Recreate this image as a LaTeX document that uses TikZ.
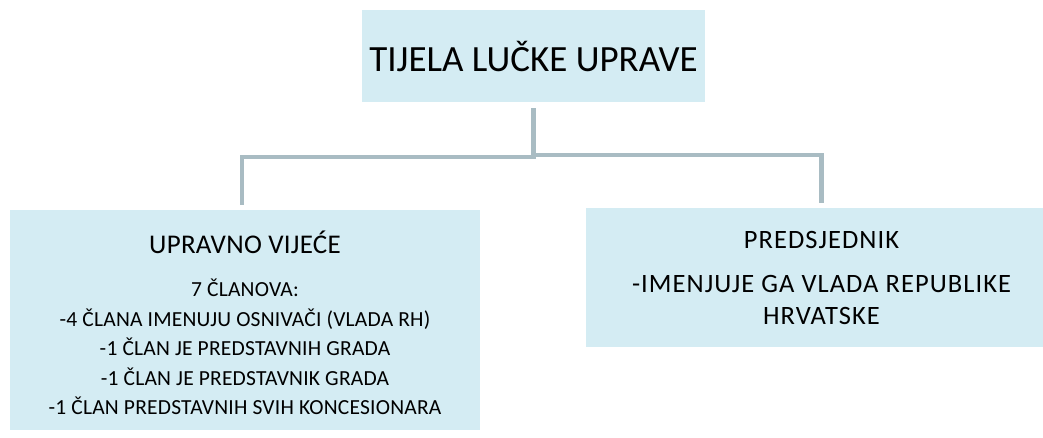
\documentclass[tikz,border=0pt]{standalone}
\usepackage{fontspec}
\setmainfont{Carlito}
\definecolor{boxfill}{HTML}{D4ECF3}
\definecolor{linecol}{HTML}{A9BCC3}
\begin{document}
\begin{tikzpicture}[x=1pt,y=-1pt,
  box/.style={fill=boxfill, draw=none, inner sep=0pt, align=center, text=black},
  conn/.style={draw=linecol, line width=4.5pt}]
\useasboundingbox (0,0) rectangle (1043,437);
\node[box, minimum width=343pt, minimum height=92pt, font=\fontsize{37}{44}\selectfont] (top) at (533.5,56) {TIJELA LUČKE UPRAVE};
\node[box, minimum width=470pt, minimum height=220pt, font=\fontsize{21.5}{29.5}\selectfont\addfontfeatures{LetterSpace=1}] (left) at (245,320)
  {\rule{0pt}{29pt}{\fontsize{27}{29.5}\selectfont UPRAVNO VIJEĆE}\\[13.5pt]
   7 ČLANOVA:\\
   -4 ČLANA IMENUJU OSNIVAČI (VLADA RH)\\
   -1 ČLAN JE PREDSTAVNIH GRADA\\
   -1 ČLAN JE PREDSTAVNIK GRADA\\
   -1 ČLAN PREDSTAVNIH SVIH KONCESIONARA};
\node[box, minimum width=471pt, minimum height=139pt, font=\fontsize{26.5}{32}\selectfont\addfontfeatures{LetterSpace=4}] (right) at (821.5,277.5)
  {PREDSJEDNIK\\[12pt]
   -IMENJUJE GA VLADA REPUBLIKE\\
   HRVATSKE};
\coordinate (stem) at ([yshift=-6pt]top.south);
\coordinate (lend) at ([xshift=-3pt,yshift=5pt]left.north);
\coordinate (rend) at ([yshift=5pt]right.north);
\draw[conn] (stem) -- ++(0,49) -| (lend);
\draw[conn] (stem) -- ++(0,47) -| (rend);
\end{tikzpicture}
\end{document}
